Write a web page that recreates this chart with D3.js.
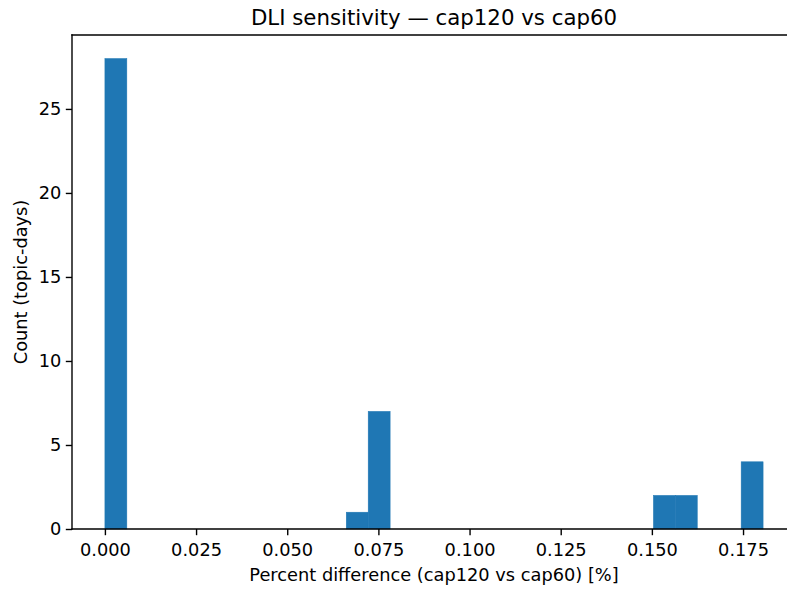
<!DOCTYPE html>
<html><head><meta charset="utf-8">
<script src="https://cdn.jsdelivr.net/npm/d3@7"></script>
<style>body{margin:0;background:#fff}svg{display:block}text{font-family:"DejaVu Sans",sans-serif;fill:#000}</style>
</head><body>
<svg id="c" width="787" height="593"></svg>
<script>
const binMin = 0;
const binMax = 0.1805;
const binCounts = [28,0,0,0,0,0,0,0,0,0,0,1,7,0,0,0,0,0,0,0,0,0,0,0,0,2,2,0,0,4];
const xTicks = [0,0.025,0.05,0.075,0.1,0.125,0.15,0.175];
const yTicks = [0,5,10,15,20,25];
const title = "DLI sensitivity \u2014 cap120 vs cap60";
const xLabel = "Percent difference (cap120 vs cap60) [%]";
const yLabel = "Count (topic-days)";

const svg = d3.select("#c");
const L = 72, R = 796, T = 35, B = 529;
const FS = 17.8;
const nb = binCounts.length, bw = (binMax - binMin) / nb;
const bins = binCounts.map((c, i) => ({x0: binMin + i*bw, x1: binMin + (i+1)*bw, c}));
const xm = (binMax - binMin) * 0.05;
const x = d3.scaleLinear().domain([binMin - xm, binMax + xm]).range([L, R]);
const ymax = d3.max(binCounts) * 1.05;
const y = d3.scaleLinear().domain([0, ymax]).range([B, T]);

svg.append("g").selectAll("rect").data(bins.filter(d => d.c > 0)).join("rect")
  .attr("x", d => x(d.x0)).attr("width", d => x(d.x1) - x(d.x0))
  .attr("y", d => y(d.c)).attr("height", d => y(0) - y(d.c))
  .attr("fill", "#1f77b4").attr("stroke", "#1f77b4").attr("stroke-width", 0.5);

const fmt = d3.format(".3f");
const xa = svg.append("g").attr("transform", `translate(0,${B})`)
  .call(d3.axisBottom(x).tickValues(xTicks).tickFormat(fmt).tickSizeOuter(0).tickSize(6.2).tickPadding(8));
const ya = svg.append("g").attr("transform", `translate(${L},0)`)
  .call(d3.axisLeft(y).tickValues(yTicks).tickFormat(d3.format("d")).tickSizeOuter(0).tickSize(6.2).tickPadding(4.5));
[xa, ya].forEach(a => {
  a.select(".domain").remove();
  a.selectAll("line").attr("stroke", "#000").attr("stroke-width", 1.4);
  a.selectAll("text").style("font-family", '"DejaVu Sans",sans-serif').style("font-size", FS + "px").attr("fill", "#000");
});
// spines
const sp = svg.append("g").attr("fill", "none").attr("stroke", "#000").attr("stroke-width", 1.4).attr("stroke-linecap", "square");
sp.append("line").attr("x1", L).attr("x2", L).attr("y1", T).attr("y2", B);
sp.append("line").attr("x1", L).attr("x2", R).attr("y1", B).attr("y2", B);
sp.append("line").attr("x1", L).attr("x2", R).attr("y1", T).attr("y2", T);
sp.append("line").attr("x1", R).attr("x2", R).attr("y1", T).attr("y2", B);

svg.append("text").attr("x", (L+R)/2).attr("y", 25).attr("text-anchor", "middle")
  .style("font-size", "21.3px").text(title);
svg.append("text").attr("x", (L+R)/2).attr("y", 581).attr("text-anchor", "middle")
  .style("font-size", FS + "px").text(xLabel);
svg.append("text").attr("transform", `translate(26.5,${(T+B)/2}) rotate(-90)`).attr("text-anchor", "middle")
  .style("font-size", FS + "px").text(yLabel);
</script>
</body></html>
